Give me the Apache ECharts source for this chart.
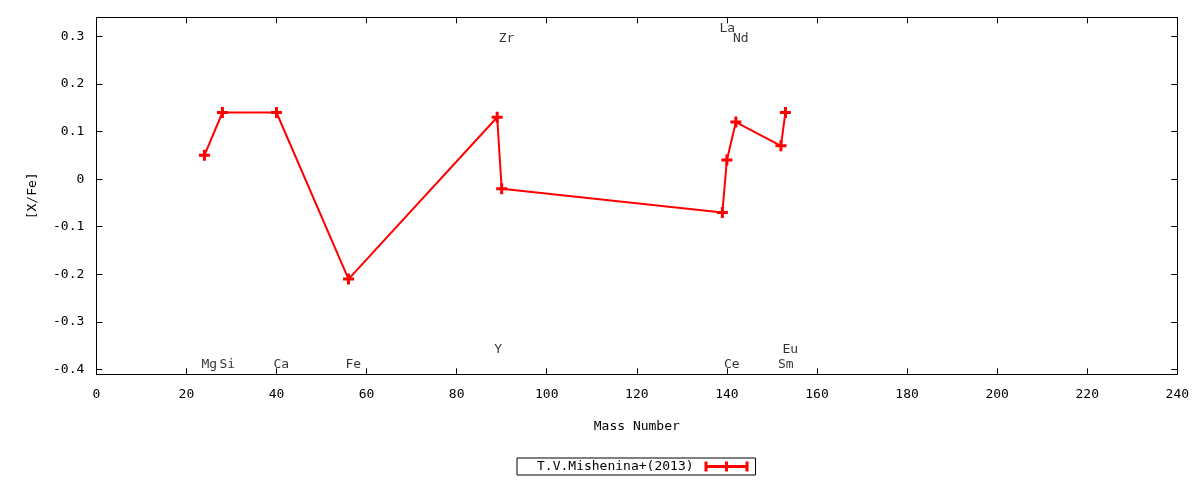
<!DOCTYPE html>
<html>
<head>
<meta charset="utf-8">
<script src="https://cdn.jsdelivr.net/npm/echarts@6/dist/echarts.min.js"></script>
<style>
html,body{margin:0;padding:0;background:#fff;}
#chart{width:1200px;height:480px;}
</style>
</head>
<body>
<div id="chart"></div>
<script>
// Data
const seriesName = 'T.V.Mishenina+(2013)';
const massNumbers = [24, 28, 40, 56, 89, 90, 139, 140, 142, 152, 153];
const xfeValues   = [0.05, 0.14, 0.14, -0.21, 0.13, -0.02, -0.07, 0.04, 0.12, 0.07, 0.14];
const elementNames = ['Mg', 'Si', 'Ca', 'Fe', 'Y', 'Zr', 'La', 'Ce', 'Nd', 'Sm', 'Eu'];
const labelY = [-0.389, -0.389, -0.389, -0.389, -0.358, 0.296, 0.316, -0.389, 0.296, -0.389, -0.358];
const yTicks = [-0.4, -0.3, -0.2, -0.1, 0, 0.1, 0.2, 0.3];
const xTickInterval = 20;

const FONT = 'DejaVu Sans Mono';
const FS = 13;
const plus = 'path://M4,0H7V4H11V7H7V11H4V7H0V4H4Z';
const legendIcon = 'path://M0,0h3v3.5h17.5v-3.5h3v3.5h17.5v-3.5h3v10h-3v-3.5h-17.5v3.5h-3v-3.5h-17.5v3.5h-3Z';

const chart = echarts.init(document.getElementById('chart'));
const axisLineStyle = {color: '#000', width: 1};
const txt = {color: '#000', fontFamily: FONT, fontSize: FS};

chart.setOption({
  animation: false,
  backgroundColor: '#fff',
  textStyle: {fontFamily: FONT},
  grid: {left: 96.3, right: 22.7, top: 17.3, bottom: 105.7},
  legend: {
    data: [{name: seriesName, icon: legendIcon}],
    left: 517, bottom: 5,
    align: 'right',
    itemWidth: 44, itemHeight: 10,
    padding: [2, 7, 2, 20],
    borderColor: '#000', borderWidth: 1,
    textStyle: Object.assign({padding: [0, 6, 0, 0]}, txt)
  },
  xAxis: [{
    type: 'value', min: 0, max: 240, interval: xTickInterval,
    name: 'Mass Number', nameLocation: 'middle', nameGap: 46,
    nameTextStyle: txt,
    axisLine: {show: true, onZero: false, lineStyle: axisLineStyle},
    axisTick: {show: true, inside: true, length: 6, lineStyle: axisLineStyle},
    axisLabel: Object.assign({margin: 14}, txt),
    splitLine: {show: false}
  }, {
    type: 'value', min: 0, max: 240, interval: xTickInterval, position: 'top',
    axisLine: {show: true, onZero: false, lineStyle: axisLineStyle},
    axisTick: {show: true, inside: true, length: 6, lineStyle: axisLineStyle},
    axisLabel: {show: false},
    splitLine: {show: false}
  }],
  yAxis: [{
    type: 'value', min: -0.41, max: 0.34,
    name: '[X/Fe]', nameLocation: 'middle', nameGap: 57, nameRotate: 90,
    nameTextStyle: txt,
    axisLine: {show: true, onZero: false, lineStyle: axisLineStyle},
    axisTick: {show: true, inside: true, length: 6, lineStyle: axisLineStyle, customValues: yTicks},
    axisLabel: Object.assign({margin: 12, customValues: yTicks, formatter: v => String(Math.round(v * 10) / 10)}, txt),
    splitLine: {show: false}
  }, {
    type: 'value', min: -0.41, max: 0.34, position: 'right',
    axisLine: {show: true, onZero: false, lineStyle: axisLineStyle},
    axisTick: {show: true, inside: true, length: 6, lineStyle: axisLineStyle, customValues: yTicks},
    axisLabel: {show: false, customValues: yTicks},
    splitLine: {show: false}
  }],
  series: [{
    name: seriesName,
    type: 'line',
    data: massNumbers.map((m, i) => [m, xfeValues[i]]),
    symbol: plus, symbolSize: 11, showSymbol: true,
    lineStyle: {color: '#ff0000', width: 2},
    itemStyle: {color: '#ff0000'},
    color: '#ff0000'
  }, {
    name: 'labels',
    type: 'scatter',
    data: massNumbers.map((m, i) => ({value: [m, labelY[i]], name: elementNames[i]})),
    symbolSize: 0,
    silent: true,
    label: {
      show: true, position: 'right', distance: 0, offset: [-3, 0],
      formatter: p => p.name,
      color: '#000', fontFamily: FONT, fontSize: FS
    }
  }]
});
</script>
</body>
</html>
